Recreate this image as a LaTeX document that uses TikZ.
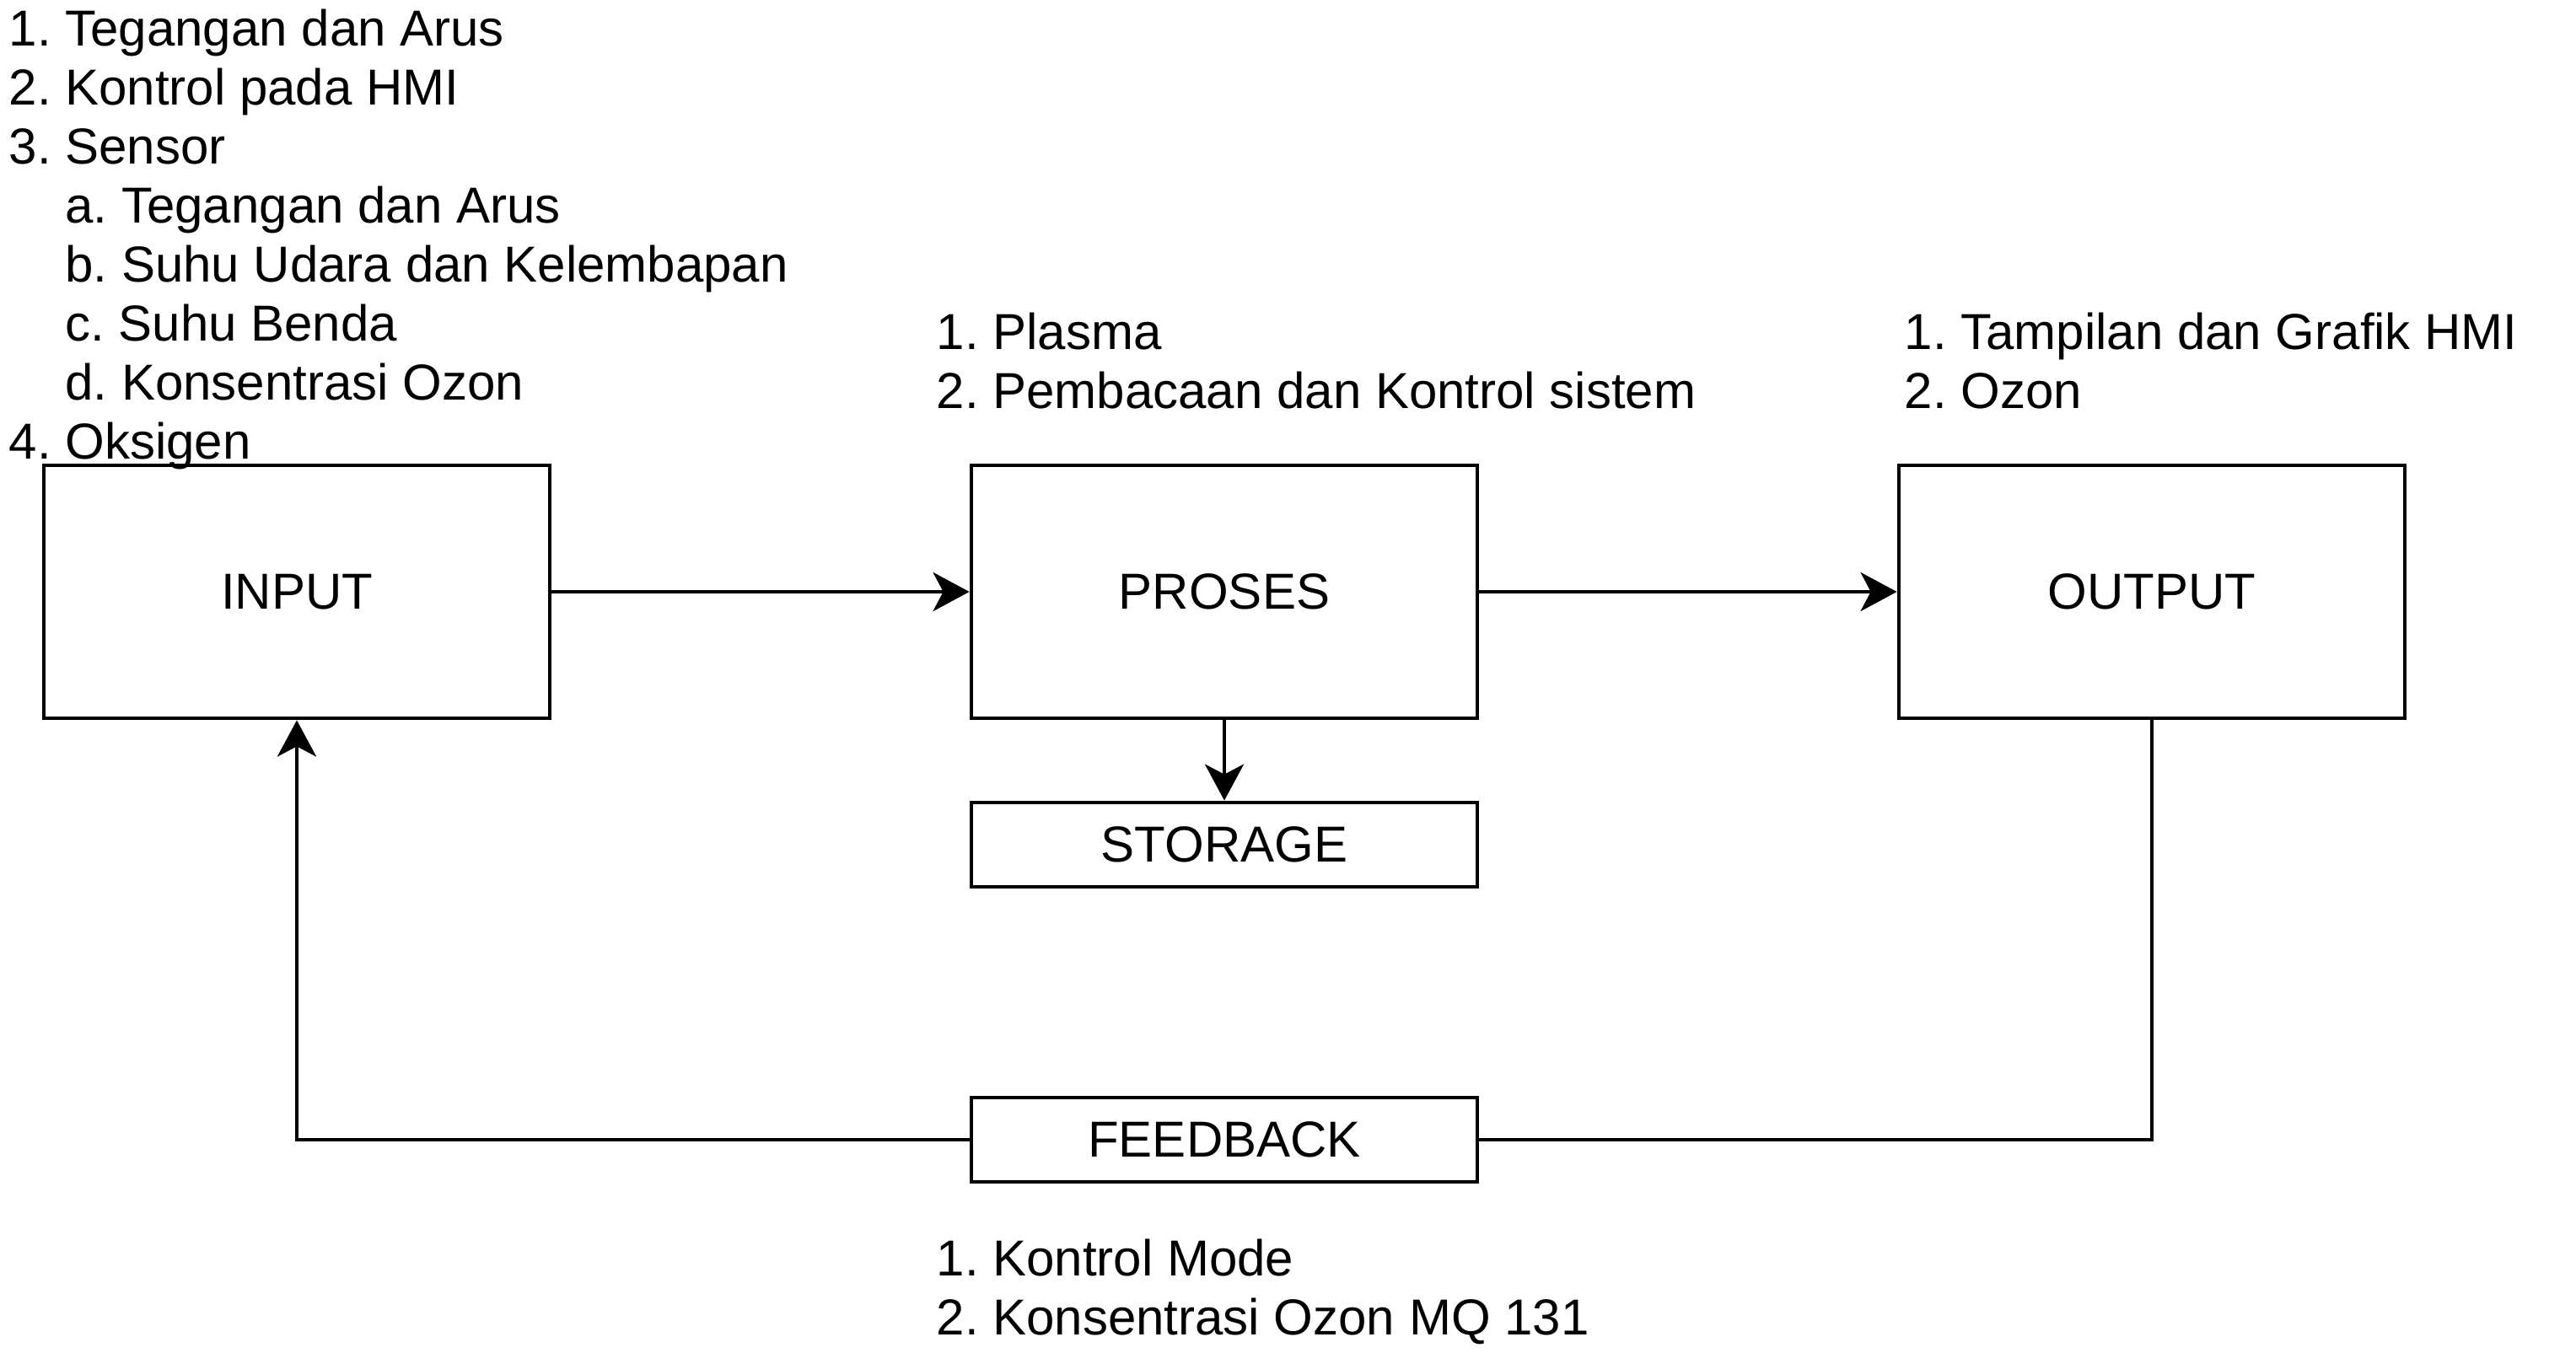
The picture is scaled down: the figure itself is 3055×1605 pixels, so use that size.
\documentclass[tikz,border=0pt]{standalone}
\usepackage{fontspec}
\setmainfont{Liberation Sans}
\usetikzlibrary{arrows.meta}
\frenchspacing
\begin{document}
\begin{tikzpicture}[x=0.25pt,y=-0.25pt,
  every node/.style={font=\fontsize{15pt}{17.5pt}\selectfont\frenchspacing},
  blockbox/.style={draw, line width=1.2pt, minimum width=150pt, minimum height=75pt, inner sep=0pt},
  smallbox/.style={draw, line width=1.2pt, minimum width=150pt, minimum height=25pt, inner sep=0pt},
  listtext/.style={anchor=base west, inner sep=0pt, align=left},
  conn/.style={line width=1.2pt},
  arr/.style={conn, -{Stealth[length=10.75pt,width=11.5pt,inset=3pt]}}]
\useasboundingbox (0,0) rectangle (3055,1605);

% lists
\node[listtext] (inlist) at (10,55) {\begin{tabular}[t]{@{}l@{}}
1. Tegangan dan Arus\\
2. Kontrol pada HMI\\
3. Sensor\\
\hphantom{1.\ }a. Tegangan dan Arus\\
\hphantom{1.\ }b. Suhu Udara dan Kelembapan\\
\hphantom{1.\ }c. Suhu Benda\\
\hphantom{1.\ }d. Konsentrasi Ozon\\
4. Oksigen
\end{tabular}};
\node[listtext] (proslist) at (1110,414) {\begin{tabular}[t]{@{}l@{}}
1. Plasma\\
2. Pembacaan dan Kontrol sistem
\end{tabular}};
\node[listtext] (outlist) at (2258,414) {\begin{tabular}[t]{@{}l@{}}
1. Tampilan dan Grafik HMI\\
2. Ozon
\end{tabular}};
\node[listtext] (fblist) at (1110,1513) {\begin{tabular}[t]{@{}l@{}}
1. Kontrol Mode\\
2. Konsentrasi Ozon MQ 131
\end{tabular}};

% boxes
\node[blockbox] (input) at (352,702) {INPUT};
\node[blockbox] (proses) at (1452,702) {PROSES};
\node[blockbox] (output) at (2552,702) {OUTPUT};
\node[smallbox] (storage) at (1452,1002) {STORAGE};
\node[smallbox] (feedback) at (1452,1352) {FEEDBACK};

% connectors
\draw[arr] (input) -- (proses);
\draw[arr] (proses) -- (output);
\draw[arr] (proses) -- (storage);
\draw[conn] (output.south) |- (feedback.east);
\draw[arr] (feedback.west) -| (input.south);
\end{tikzpicture}
\end{document}
